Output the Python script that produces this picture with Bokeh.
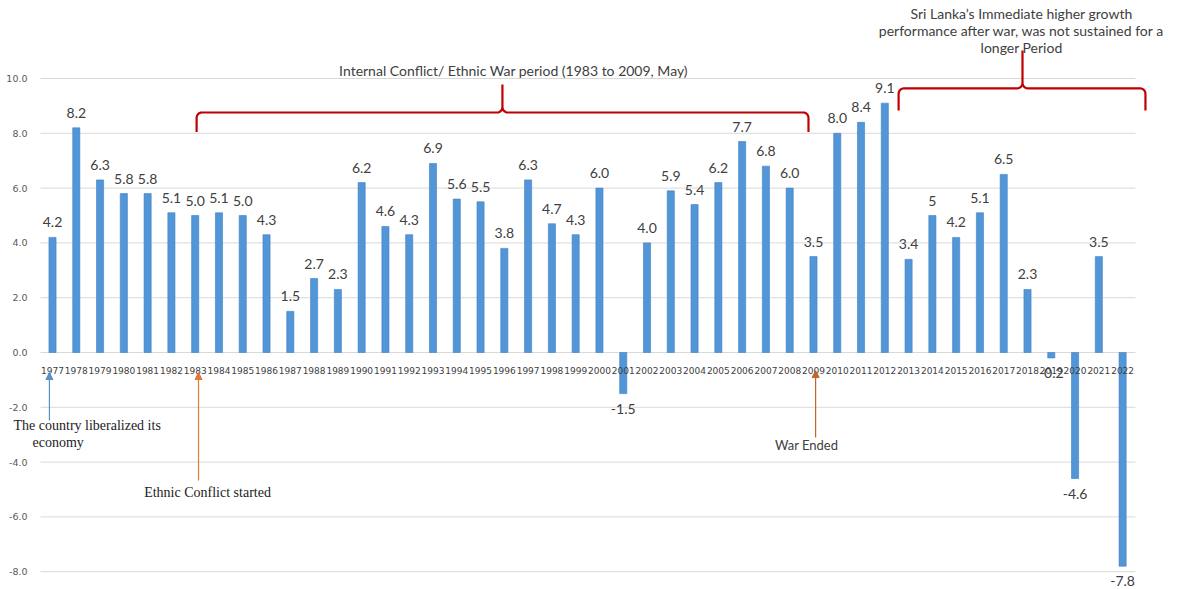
import numpy as np
from bokeh.plotting import figure
from bokeh.models import (ColumnDataSource, FixedTicker, NumeralTickFormatter,
                          Label, Arrow, NormalHead, Range1d)
from bokeh.core.properties import value
from bokeh.embed import file_html
from bokeh.resources import INLINE

# ---------------- data ----------------
years = list(range(1977, 2023))
growth = [4.2, 8.2, 6.3, 5.8, 5.8, 5.1, 5.0, 5.1, 5.0, 4.3,
          1.5, 2.7, 2.3, 6.2, 4.6, 4.3, 6.9, 5.6, 5.5, 3.8,
          6.3, 4.7, 4.3, 6.0, -1.5, 4.0, 5.9, 5.4, 6.2, 7.7,
          6.8, 6.0, 3.5, 8.0, 8.4, 9.1, 3.4, 5.0, 4.2, 5.1,
          6.5, 2.3, -0.2, -4.6, 3.5, -7.8]
value_labels = ["4.2", "8.2", "6.3", "5.8", "5.8", "5.1", "5.0", "5.1", "5.0", "4.3",
                "1.5", "2.7", "2.3", "6.2", "4.6", "4.3", "6.9", "5.6", "5.5", "3.8",
                "6.3", "4.7", "4.3", "6.0", "-1.5", "4.0", "5.9", "5.4", "6.2", "7.7",
                "6.8", "6.0", "3.5", "8.0", "8.4", "9.1", "3.4", "5", "4.2", "5.1",
                "6.5", "2.3", "-0.2", "-4.6", "3.5", "-7.8"]
y_ticks = [-8, -6, -4, -2, 0, 2, 4, 6, 8, 10]

# ---------------- styling ----------------
BAR = "#5296d8"
GRID = "#d9d9d9"
TXT = "#404040"
RED = "#c00000"
SANS = "Lato"
SERIF = "Liberation Serif"
GRID_X0, GRID_X1 = 1976.495, 2022.54

p = figure(width=1178, height=589, output_backend="svg", toolbar_location=None,
           x_range=Range1d(1974.813, 2024.35), y_range=Range1d(-8.650, 12.847),
           min_border_left=0, min_border_right=0, min_border_top=0,
           min_border_bottom=0, outline_line_color=None)
p.background_fill_color = "white"
p.border_fill_color = "white"
p.grid.visible = False

# gridlines (limited extent like the original)
p.segment(x0=[GRID_X0] * len(y_ticks), x1=[GRID_X1] * len(y_ticks),
          y0=y_ticks, y1=y_ticks, line_color=GRID, line_width=1)

src = ColumnDataSource(dict(x=years, top=growth, lab=value_labels))
p.vbar(x="x", top="top", bottom=0, width=0.3, source=src,
       fill_color=BAR, line_color="#3f80c4", line_width=0.6)

pos = ColumnDataSource(dict(x=[x for x, v in zip(years, growth) if v >= 0],
                            y=[v for v in growth if v >= 0],
                            t=[l for l, v in zip(value_labels, growth) if v >= 0]))
neg = ColumnDataSource(dict(x=[x for x, v in zip(years, growth) if v < 0],
                            y=[v for v in growth if v < 0],
                            t=[l for l, v in zip(value_labels, growth) if v < 0]))
p.text(x="x", y="y", text="t", source=pos, y_offset=-15, text_align="center",
       text_baseline="middle", text_font=value(SANS), text_font_size="14px",
       text_color=TXT)
p.text(x="x", y="y", text="t", source=neg, y_offset=15, text_align="center",
       text_baseline="middle", text_font=value(SANS), text_font_size="14px",
       text_color=TXT)

# axes (drawn inside the frame at fixed locations)
p.yaxis.fixed_location = GRID_X0
p.yaxis.ticker = FixedTicker(ticks=y_ticks)
p.yaxis.formatter = NumeralTickFormatter(format="0.0")
p.yaxis.axis_line_color = None
p.yaxis.major_tick_line_color = None
p.yaxis.minor_tick_line_color = None
p.yaxis.major_label_standoff = 7
p.yaxis.major_label_text_font = "DejaVu Sans"
p.yaxis.major_label_text_font_size = "9.5px"
p.yaxis.major_label_text_color = "#595959"

p.xaxis.fixed_location = 0
p.xaxis.ticker = FixedTicker(ticks=years)
p.xaxis.axis_line_color = None
p.xaxis.major_tick_line_color = None
p.xaxis.minor_tick_line_color = None
p.xaxis.major_label_standoff = 9
p.xaxis.major_label_text_font = "DejaVu Sans"
p.xaxis.major_label_text_font_size = "9px"
p.xaxis.major_label_text_color = "#404040"

# curly brackets
def brace(x0, x1, xc, yh, ydrop, ypeak, rx=0.22, ry=0.2):
    t = np.linspace(0, np.pi / 2, 8)
    xs, ys = [x0], [ydrop]
    xs += list(x0 + rx - rx * np.cos(t)); ys += list(yh - ry + ry * np.sin(t))
    xs += list(xc - rx + rx * np.sin(t)); ys += list(yh + ry - ry * np.cos(t))
    xs += [xc, xc]; ys += [ypeak, yh + ry]
    xs += list(xc + rx - rx * np.cos(t)); ys += list(yh + ry * (1 - np.sin(t)))
    xs += list(x1 - rx + rx * np.sin(t)); ys += list(yh - ry + ry * np.cos(t))
    xs += [x1]; ys += [ydrop]
    return xs, ys

braces = [
    (1983.06, 2008.79, 1995.92, 8.76, 8.05, 9.78),
    (2012.58, 2022.96, 2017.79, 9.64, 8.83, 11.02),
]
for b in braces:
    bx, by = brace(*b)
    p.line(bx, by, line_color=RED, line_width=2.2)

# arrows
arrows = [
    (1976.87, -2.48, -0.73, "#5b8fc9"),
    (1983.14, -4.67, -0.73, "#e07b39"),
    (2009.09, -3.10, -0.66, "#c0662a"),
]
for ax, y0, y1, c in arrows:
    p.add_layout(Arrow(end=NormalHead(size=7, fill_color=c, line_color=c),
                       x_start=ax, y_start=y0, x_end=ax, y_end=y1,
                       line_color=c, line_width=1.2))

# text annotations
def lab(x, y, t, font=SANS, size="14px", align="center", color=TXT):
    p.add_layout(Label(x=x, y=y, text=t, text_align=align, text_baseline="middle",
                       text_font=font, text_font_size=size, text_color=color))

lab(1996.39, 10.29, "Internal Conflict/ Ethnic War period (1983 to 2009, May)")
lab(2017.75, 12.37, "Sri Lanka\u2019s Immediate higher growth")
lab(2017.75, 11.75, "performance after war, was not sustained for a")
lab(2017.75, 11.13, "longer Period")
lab(1975.36, -2.66, "The country liberalized its", font=SERIF, size="14px",
    align="left", color="#222222")
lab(1976.16, -3.28, "economy", font=SERIF, size="14px", align="left", color="#222222")
lab(1983.52, -5.11, "Ethnic Conflict started", font=SERIF, size="14px", color="#222222")
lab(2008.71, -3.39, "War Ended", size="13px")

open("out.html", "w").write(file_html(p, INLINE))
